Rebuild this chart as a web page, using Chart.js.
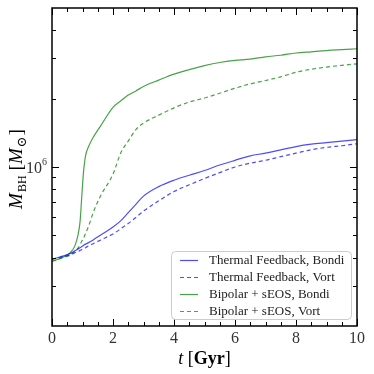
<!DOCTYPE html>
<html>
<head>
<meta charset="utf-8">
<script src="https://cdn.jsdelivr.net/npm/chart.js@4/dist/chart.umd.min.js"></script>
<style>
html,body{margin:0;padding:0;background:#fff;}
#wrap{width:374px;height:374px;}
</style>
</head>
<body>
<div id="wrap"><canvas id="c" width="374" height="374"></canvas></div>
<script>
// ---- data ----
const times = [0, 0.25, 0.5, 0.6, 0.75, 0.85, 0.92, 0.97, 1.03, 1.1, 1.2, 1.35, 1.6, 2, 2.25, 2.5, 2.75, 3, 3.5, 4, 4.5, 5, 5.5, 6, 6.5, 7, 7.5, 8, 8.5, 9, 9.5, 10];
const thermalBondi = [3.93e5, 4.02e5, 4.12e5, 4.17e5, 4.28e5, 4.36e5, 4.42e5, 4.46e5, 4.52e5, 4.58e5, 4.65e5, 4.78e5, 5.03e5, 5.45e5, 5.8e5, 6.3e5, 6.85e5, 7.45e5, 8.2e5, 8.75e5, 9.2e5, 9.65e5, 1.02e6, 1.07e6, 1.12e6, 1.15e6, 1.19e6, 1.23e6, 1.26e6, 1.28e6, 1.30e6, 1.32e6];
const thermalVort = [3.93e5, 4.0e5, 4.07e5, 4.1e5, 4.2e5, 4.25e5, 4.3e5, 4.33e5, 4.37e5, 4.42e5, 4.5e5, 4.6e5, 4.78e5, 5.08e5, 5.35e5, 5.65e5, 6.0e5, 6.4e5, 7.1e5, 7.8e5, 8.35e5, 8.9e5, 9.45e5, 1.0e6, 1.04e6, 1.07e6, 1.11e6, 1.15e6, 1.19e6, 1.22e6, 1.24e6, 1.265e6];
const bipolarBondi = [3.85e5, 3.95e5, 4.1e5, 4.2e5, 4.5e5, 5.0e5, 5.75e5, 7.2e5, 9.4e5, 1.12e6, 1.23e6, 1.35e6, 1.52e6, 1.83e6, 1.95e6, 2.07e6, 2.16e6, 2.26e6, 2.41e6, 2.56e6, 2.68e6, 2.79e6, 2.88e6, 2.94e6, 2.98e6, 3.05e6, 3.10e6, 3.17e6, 3.21e6, 3.25e6, 3.28e6, 3.31e6];
const bipolarVort = [3.85e5, 3.95e5, 4.05e5, 4.12e5, 4.25e5, 4.4e5, 4.55e5, 4.7e5, 4.85e5, 5.1e5, 5.5e5, 6.3e5, 7.5e5, 9.3e5, 1.15e6, 1.3e6, 1.46e6, 1.56e6, 1.69e6, 1.82e6, 1.93e6, 2.01e6, 2.11e6, 2.22e6, 2.32e6, 2.40e6, 2.49e6, 2.61e6, 2.69e6, 2.75e6, 2.80e6, 2.84e6];
const seriesLabels = ["Thermal Feedback, Bondi", "Thermal Feedback, Vort", "Bipolar + sEOS, Bondi", "Bipolar + sEOS, Vort"];
const xTickLabels = [0, 2, 4, 6, 8, 10];
const yTickLabels = [1e6];
const xRange = [0, 10];
const yRange = [2e5, 5e6];

// ---- styles ----
const BLUE = "rgba(0,0,255,0.7)";
const GREEN = "rgba(0,128,0,0.72)";
const SERIF = "'Liberation Serif', 'DejaVu Serif', serif";

function pts(vals){ return times.map((t,i)=>({x:t, y:vals[i]})); }

const datasets = [
  {label: seriesLabels[0], data: pts(thermalBondi), borderColor: BLUE, borderDash: []},
  {label: seriesLabels[1], data: pts(thermalVort), borderColor: BLUE, borderDash: [4,3]},
  {label: seriesLabels[2], data: pts(bipolarBondi), borderColor: GREEN, borderDash: []},
  {label: seriesLabels[3], data: pts(bipolarVort), borderColor: GREEN, borderDash: [4,3]},
].map(d => Object.assign(d, {borderWidth: 1.2, pointRadius: 0, fill: false, cubicInterpolationMode: 'monotone'}));

const decor = {
  id: 'decor',
  afterDraw(chart){
    const ctx = chart.ctx, a = chart.chartArea;
    const xs = chart.scales.x, ys = chart.scales.y;
    ctx.save();
    // ticks (inward, all four sides)
    ctx.strokeStyle = '#000';
    ctx.lineWidth = 1;
    ctx.beginPath();
    for (let v = xRange[0]; v <= xRange[1] + 1e-9; v += 0.5) {
      const px = Math.round(xs.getPixelForValue(v)) + 0.5;
      const major = Math.abs(v/2 - Math.round(v/2)) < 1e-9;
      const L = major ? 7 : 4;
      ctx.moveTo(px, a.bottom); ctx.lineTo(px, a.bottom - L);
      ctx.moveTo(px, a.top); ctx.lineTo(px, a.top + L);
    }
    const yMinor = [3e5,4e5,5e5,6e5,7e5,8e5,9e5,2e6,3e6,4e6];
    yMinor.forEach(v => {
      const py = Math.round(ys.getPixelForValue(v)) + 0.5;
      ctx.moveTo(a.left, py); ctx.lineTo(a.left + 4, py);
      ctx.moveTo(a.right, py); ctx.lineTo(a.right - 4, py);
    });
    yTickLabels.forEach(v => {
      const py = Math.round(ys.getPixelForValue(v)) + 0.5;
      ctx.moveTo(a.left, py); ctx.lineTo(a.left + 7, py);
      ctx.moveTo(a.right, py); ctx.lineTo(a.right - 7, py);
    });
    ctx.stroke();
    // frame
    ctx.lineWidth = 1.5;
    ctx.strokeRect(a.left, a.top, a.right - a.left, a.bottom - a.top);

    // tick labels
    ctx.fillStyle = '#333';
    ctx.font = "16px " + SERIF;
    ctx.textAlign = 'center'; ctx.textBaseline = 'top';
    xTickLabels.forEach(v => ctx.fillText(String(v), xs.getPixelForValue(v), a.bottom + 5));
    yTickLabels.forEach(v => {
      const py = ys.getPixelForValue(v);
      const exp = Math.round(Math.log10(v));
      ctx.font = "10px " + SERIF;
      const ew = ctx.measureText(String(exp)).width;
      ctx.textAlign = 'left'; ctx.textBaseline = 'alphabetic';
      ctx.fillText(String(exp), a.left - 5 - ew, py - 2);
      ctx.font = "16px " + SERIF;
      ctx.textAlign = 'right';
      ctx.fillText("10", a.left - 5 - ew, py + 6);
    });

    // x title: t [Gyr]
    ctx.fillStyle = '#000';
    ctx.textBaseline = 'alphabetic'; ctx.textAlign = 'left';
    const partsX = [["italic 18px " + SERIF, "t "], ["18px " + SERIF, "["], ["bold 18px " + SERIF, "Gyr"], ["18px " + SERIF, "]"]];
    let tw = 0; partsX.forEach(p => { ctx.font = p[0]; tw += ctx.measureText(p[1]).width; });
    let cx = (a.left + a.right)/2 - tw/2;
    partsX.forEach(p => { ctx.font = p[0]; ctx.fillText(p[1], cx, 364); cx += ctx.measureText(p[1]).width; });

    // y title: M_BH [M_sun]
    ctx.save();
    ctx.translate(16, (a.top + a.bottom)/2 + 2);
    ctx.rotate(-Math.PI/2);
    const partsY = [
      ["italic 19px " + SERIF, "M", 0, 1], ["12px " + SERIF, "BH", 4, 5], ["19px " + SERIF, "[", 0, 0],
      ["italic 19px " + SERIF, "M", 0, 1], ["13px " + SERIF, "\u2299", 4, 1], ["19px " + SERIF, "]", 0, 0]
    ];
    tw = 0; partsY.forEach(p => { ctx.font = p[0]; tw += ctx.measureText(p[1]).width + p[3]; });
    cx = -tw/2;
    partsY.forEach(p => { ctx.font = p[0]; ctx.fillText(p[1], cx, 6 + p[2]); cx += ctx.measureText(p[1]).width + p[3]; });
    ctx.restore();

    // legend
    const lx = 171, ly = 251, lw = 180, lh = 68;
    ctx.beginPath();
    ctx.roundRect(lx + 0.5, ly + 0.5, lw, lh, 4);
    ctx.fillStyle = 'rgba(255,255,255,0.85)';
    ctx.fill();
    ctx.strokeStyle = '#cccccc'; ctx.lineWidth = 1;
    ctx.stroke();
    chart.data.datasets.forEach((d, i) => {
      const ry = 260 + i * 17;
      ctx.beginPath();
      ctx.strokeStyle = d.borderColor; ctx.lineWidth = 1.2;
      ctx.setLineDash(d.borderDash || []);
      ctx.moveTo(180, ry + 0.5); ctx.lineTo(198, ry + 0.5);
      ctx.stroke();
      ctx.setLineDash([]);
      ctx.fillStyle = '#222';
      ctx.font = "13px " + SERIF;
      ctx.textAlign = 'left'; ctx.textBaseline = 'middle';
      ctx.fillText(d.label, 209, ry + 1);
    });
    ctx.restore();
  }
};

new Chart(document.getElementById('c'), {
  type: 'line',
  data: {datasets},
  options: {
    responsive: false,
    devicePixelRatio: 1,
    animation: false,
    layout: {padding: {left: 52, top: 8, right: 17, bottom: 48}},
    plugins: {legend: {display: false}, tooltip: {enabled: false}},
    scales: {
      x: {type: 'linear', min: xRange[0], max: xRange[1], display: false},
      y: {type: 'logarithmic', min: yRange[0], max: yRange[1], display: false}
    }
  },
  plugins: [decor]
});
</script>
</body>
</html>
